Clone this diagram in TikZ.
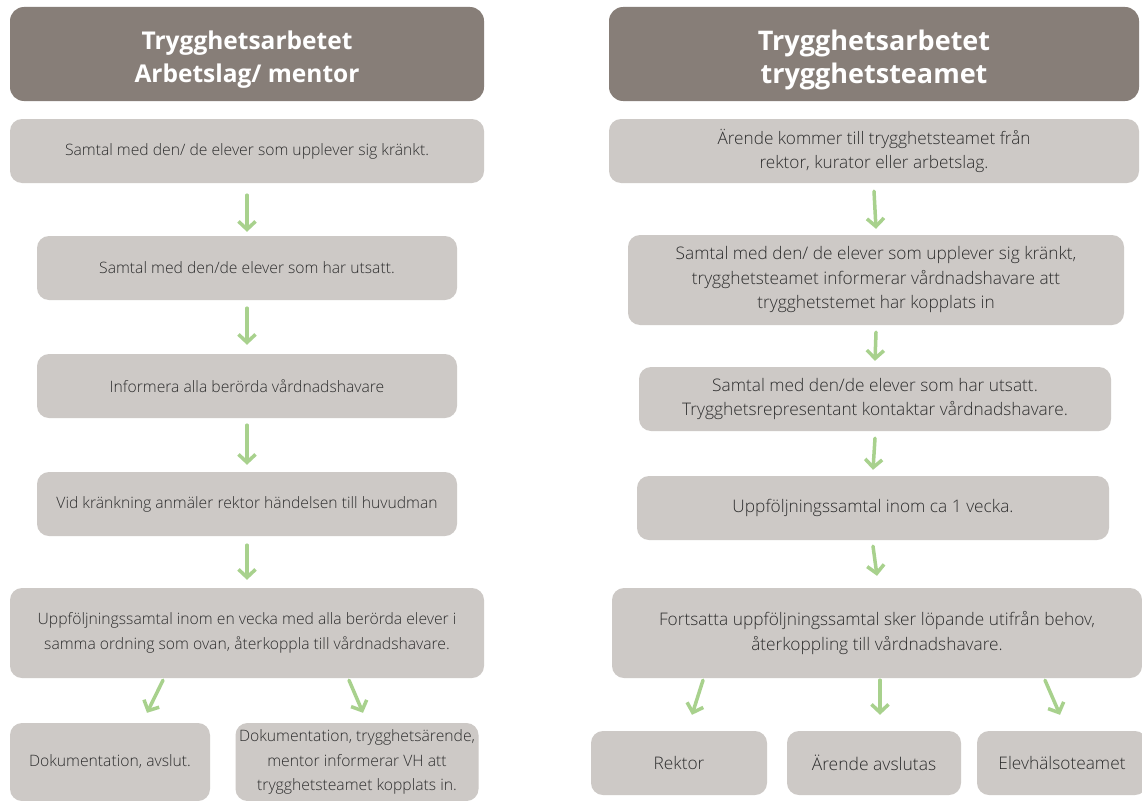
\documentclass[tikz,border=0pt]{standalone}
\usepackage{fontspec}
\setmainfont{Open Sans}
\newfontfamily\lightfont{Open Sans}[UprightFont=* Light]
\usetikzlibrary{arrows.meta}
\definecolor{hdr}{RGB}{135,126,120}
\definecolor{boxc}{RGB}{205,201,198}
\definecolor{txt}{RGB}{45,45,45}
\definecolor{arrc}{RGB}{168,209,141}
\tikzset{
 hdrbox/.style={fill=hdr, rounded corners=14pt, inner sep=0pt},
 hdrtext/.style={text=white, font=\fontsize{#1}{33}\selectfont\bfseries, align=center, inner sep=0pt},
 gbox/.style={fill=boxc, rounded corners=12pt, text=txt, font=\lightfont\fontsize{#1}{24.5}\selectfont, align=center, inner sep=0pt},
 gbox/.default=15.7,
 flow/.style={draw=arrc, line width=3.5pt, line cap=round, line join=round, -{Straight Barb[length=8pt,width=17pt]}},
}
\begin{document}
\begin{tikzpicture}[x=1pt,y=-1pt]
\clip (0,0) rectangle (1142,800);
\fill[white] (0,0) rectangle (1142,800);
% left column
\node[hdrbox, minimum width=474pt, minimum height=94pt] (H1) at (247,54) {};
\node[hdrtext=24.5] (H1t) at (247,60) {Trygghetsarbetet\\Arbetslag/ mentor};
\node[gbox, minimum width=474pt, minimum height=64pt] (L1) at (247,151) {Samtal med den/ de elever som upplever sig kränkt.};
\node[gbox, minimum width=420pt, minimum height=64pt] (L2) at (247,268) {Samtal med den/de elever som har utsatt.};
\node[gbox, minimum width=420pt, minimum height=64pt] (L3) at (247,386) {Informera alla berörda vårdnadshavare};
\node[gbox, minimum width=420pt, minimum height=64pt] (L4) at (247,504) {Vid kränkning anmäler rektor händelsen till huvudman};
\node[gbox, minimum width=474pt, minimum height=90pt] (L5) at (247,633) {Uppföljningssamtal inom en vecka med alla berörda elever i\\samma ordning som ovan, återkoppla till vårdnadshavare.};
\node[gbox, minimum width=200pt, minimum height=78pt] (L6) at (110,762) {Dokumentation, avslut.};
\node[gbox, minimum width=243pt, minimum height=78pt] (L7) at (357,762) {Dokumentation, trygghetsärende,\\mentor informerar VH att\\trygghetsteamet kopplats in.};
% right column
\node[hdrbox, minimum width=530pt, minimum height=94pt] (H2) at (874,54) {};
\node[hdrtext=27] (H2t) at (874,60) {Trygghetsarbetet\\trygghetsteamet};
\node[gbox=17.2, minimum width=530pt, minimum height=64pt] (R1) at (874,151) {Ärende kommer till trygghetsteamet från\\rektor, kurator eller arbetslag.};
\node[gbox=17.3, minimum width=496pt, minimum height=90pt] (R2) at (876,280) {Samtal med den/ de elever som upplever sig kränkt,\\trygghetsteamet informerar vårdnadshavare att\\trygghetstemet har kopplats in};
\node[gbox=17.3, minimum width=472pt, minimum height=64pt] (R3) at (875,399) {Samtal med den/de elever som har utsatt.\\Trygghetsrepresentant kontaktar vårdnadshavare.};
\node[gbox=17.3, minimum width=472pt, minimum height=64pt] (R4) at (873,508) {Uppföljningssamtal inom ca 1 vecka.};
\node[gbox=17.3, minimum width=530pt, minimum height=90pt] (R5) at (877,633) {Fortsatta uppföljningssamtal sker löpande utifrån behov,\\återkoppling till vårdnadshavare.};
\node[gbox=17.3, minimum width=176pt, minimum height=64pt] (B1) at (679,763) {Rektor};
\node[gbox=17.5, minimum width=174pt, minimum height=64pt] (B2) at (874,763) {Ärende avslutas};
\node[gbox=17.3, minimum width=170pt, minimum height=64pt] (B3) at (1062,763) {Elevhälsoteamet};
% left arrows
\draw[flow] ([yshift=-12pt]L1.south) -- ([yshift=4pt]L2.north);
\draw[flow] ([yshift=-8pt]L2.south) -- ([yshift=9pt]L3.north);
\draw[flow] ([yshift=-7pt]L3.south) -- ([yshift=7pt]L4.north);
\draw[flow] ([yshift=-9pt]L4.south) -- ([yshift=8pt]L5.north);
\draw[flow] ([xshift=-84pt,yshift=-2pt]L5.south) -- ([xshift=37pt,yshift=10pt]L6.north);
\draw[flow] ([xshift=102pt,yshift=-2pt]L5.south) -- ([xshift=6pt,yshift=10pt]L7.north);
% right arrows
\draw[flow] ([yshift=-8pt]R1.south) -- ([yshift=6pt]R2.north);
\draw[flow] ([yshift=-7pt]R2.south) -- ([yshift=6pt]R3.north);
\draw[flow] ([yshift=-7pt]R3.south) -- ([yshift=6pt]R4.north);
\draw[flow] ([yshift=-6pt]R4.south) -- ([yshift=12pt]R5.north);
\draw[flow] ([xshift=-174pt,yshift=-2pt]R5.south) -- ([xshift=13pt,yshift=16pt]B1.north);
\draw[flow] ([xshift=3pt,yshift=-2pt]R5.south) -- ([xshift=6pt,yshift=16pt]B2.north);
\draw[flow] ([xshift=168pt,yshift=-2pt]R5.south) -- ([xshift=-2pt,yshift=16pt]B3.north);
\end{tikzpicture}
\end{document}
